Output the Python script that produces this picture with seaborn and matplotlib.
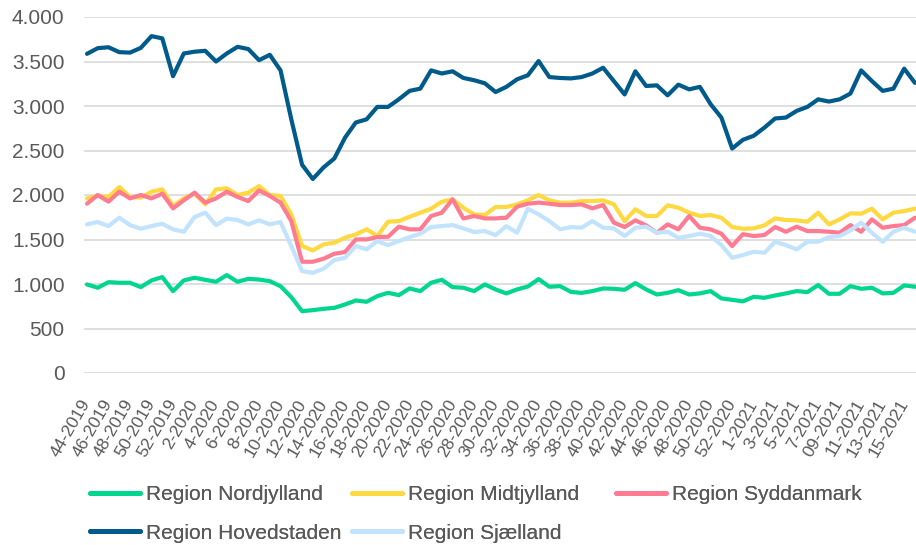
import numpy as np
import pandas as pd
import matplotlib
matplotlib.use('Agg')
import matplotlib.pyplot as plt
from matplotlib.ticker import FuncFormatter
from matplotlib.lines import Line2D
import seaborn as sns

# week labels 44-2019 .. 16-2021
weeks = ([f'{w}-2019' for w in range(44, 53)]
         + [f'{w}-2020' for w in range(1, 54)]
         + [f'{w}-2021' if w != 9 else '09-2021' for w in range(1, 17)])

nordjylland = [995, 958, 1021, 1014, 1014, 965, 1040, 1078, 920, 1040,
               1070, 1047, 1025, 1100, 1025, 1058, 1050, 1032, 975, 852,
               695, 706, 721, 732, 770, 815, 800, 864, 901, 875,
               950, 920, 1014, 1047, 965, 958, 920, 995, 939, 894,
               939, 972, 1055, 969, 976, 912, 900, 920, 950, 946,
               935, 1010, 939, 882, 901, 931, 882, 894, 920, 838,
               822, 805, 856, 845, 871, 894, 920, 909, 988, 890,
               890, 976, 946, 958, 894, 901, 984, 969]

midtjylland = [1962, 1990, 1978, 2090, 1978, 1970, 2037, 2063, 1876, 1962,
               2015, 1895, 2063, 2075, 2000, 2026, 2100, 2000, 1989, 1782,
               1426, 1378, 1445, 1464, 1520, 1557, 1614, 1539, 1700, 1707,
               1755, 1801, 1846, 1925, 1951, 1857, 1782, 1775, 1865, 1865,
               1895, 1940, 2000, 1940, 1914, 1914, 1932, 1932, 1940, 1895,
               1707, 1839, 1764, 1764, 1884, 1857, 1801, 1764, 1775, 1745,
               1640, 1620, 1625, 1659, 1737, 1719, 1715, 1700, 1801, 1670,
               1726, 1794, 1790, 1846, 1726, 1801, 1820, 1846]

syddanmark = [1902, 2000, 1925, 2037, 1962, 2000, 1962, 2015, 1850, 1940,
              2026, 1914, 1962, 2037, 1978, 1932, 2052, 1989, 1914, 1707,
              1250, 1250, 1284, 1340, 1359, 1501, 1501, 1527, 1531, 1644,
              1614, 1614, 1764, 1801, 1951, 1737, 1764, 1737, 1737, 1745,
              1869, 1902, 1914, 1902, 1887, 1887, 1895, 1850, 1887, 1689,
              1640, 1715, 1659, 1576, 1670, 1614, 1764, 1632, 1614, 1565,
              1426, 1560, 1539, 1550, 1640, 1587, 1644, 1595, 1595, 1587,
              1576, 1662, 1587, 1726, 1632, 1651, 1662, 1745]

hovedstaden = [3586, 3650, 3660, 3605, 3600, 3653, 3785, 3760, 3335, 3590,
               3610, 3620, 3500, 3590, 3665, 3640, 3515, 3575, 3400, 2850,
               2340, 2180, 2310, 2410, 2645, 2815, 2850, 2990, 2990, 3075,
               3170, 3195, 3400, 3365, 3390, 3315, 3290, 3255, 3157, 3215,
               3300, 3345, 3505, 3325, 3315, 3310, 3325, 3365, 3430, 3280,
               3130, 3390, 3225, 3232, 3120, 3240, 3187, 3215, 3020, 2870,
               2522, 2620, 2665, 2757, 2860, 2870, 2945, 2990, 3075, 3050,
               3075, 3140, 3400, 3280, 3170, 3195, 3420, 3260]

sjaelland = [1670, 1696, 1651, 1745, 1662, 1621, 1651, 1677, 1614, 1587,
             1752, 1801, 1662, 1734, 1719, 1670, 1715, 1670, 1696, 1426,
             1145, 1126, 1171, 1269, 1295, 1426, 1389, 1482, 1437, 1482,
             1527, 1565, 1640, 1651, 1662, 1625, 1584, 1595, 1550, 1651,
             1576, 1846, 1782, 1707, 1614, 1640, 1632, 1707, 1632, 1625,
             1539, 1632, 1644, 1576, 1587, 1520, 1539, 1565, 1539, 1437,
             1295, 1325, 1362, 1351, 1475, 1437, 1389, 1475, 1475, 1527,
             1539, 1602, 1689, 1576, 1475, 1587, 1632, 1587]

series = {
    'Region Nordjylland': (nordjylland, '#00d68f'),
    'Region Midtjylland': (midtjylland, '#ffd93f'),
    'Region Syddanmark': (syddanmark, '#ff7b92'),
    'Region Hovedstaden': (hovedstaden, '#005a8a'),
    'Region Sjælland': (sjaelland, '#c2e3fd'),
}

sns.set_theme(style='white')
plt.rcParams['font.family'] = ['Liberation Sans', 'DejaVu Sans']

fig = plt.figure(figsize=(9.16, 5.45), dpi=100)
ax = fig.add_axes([84 / 916, 172 / 545, 832 / 916, 356 / 545])

idx = np.arange(len(weeks))
for name, (vals, col) in series.items():
    sns.lineplot(x=idx, y=vals, color=col, linewidth=3.0, ax=ax, legend=False)

ax.set_ylim(0, 4000)
ax.set_xlim(-0.28, 77.1)
ax.set_yticks(np.arange(0, 4001, 500))
ax.yaxis.set_major_formatter(FuncFormatter(lambda v, p: f'{int(v):,}'.replace(',', '.')))
ax.set_xticks(idx[::2])
ax.set_xticklabels(weeks[::2], rotation=60, ha='right', rotation_mode='anchor', va='center')
ax.grid(axis='y', color='#d9d9d9', linewidth=1.2)
ax.set_axisbelow(True)
for s in ax.spines.values():
    s.set_visible(False)
ax.tick_params(axis='y', length=0, pad=14, labelsize=15, labelcolor='#595959')
ax.tick_params(axis='x', length=0, pad=20, labelsize=12.5, labelcolor='#595959')
ax.set_xlabel('')
ax.set_ylabel('')

# legend laid out as three fixed-width columns like the original
columns = [(90, ['Region Nordjylland', 'Region Hovedstaden']),
           (352, ['Region Midtjylland', 'Region Sjælland']),
           (616, ['Region Syddanmark'])]
for x0, names in columns:
    handles = [Line2D([0], [0], color=series[n][1], linewidth=3.5) for n in names]
    leg = fig.legend(handles, names, loc='upper left', bbox_to_anchor=(x0 / 916, 1 - 485 / 545),
                     ncol=1, frameon=False, fontsize=15, labelcolor='#595959',
                     handlelength=2.4, handletextpad=0.3,
                     labelspacing=0.94, borderpad=0, borderaxespad=0)
    fig.add_artist(leg)

fig.savefig('out.png', dpi=100)
